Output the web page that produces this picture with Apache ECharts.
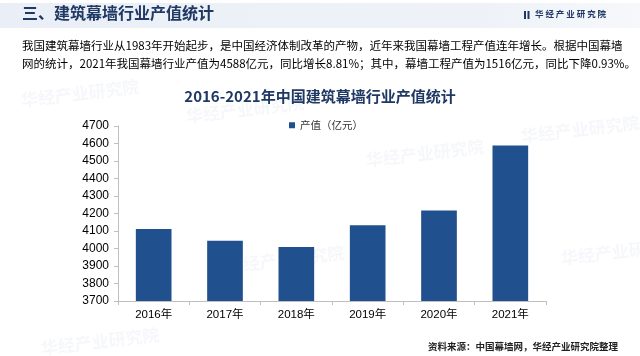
<!DOCTYPE html>
<html>
<head>
<meta charset="utf-8">
<script src="https://cdn.jsdelivr.net/npm/echarts@6/dist/echarts.min.js"></script>
<style>
html,body{margin:0;padding:0;background:#fff;}
#c{width:640px;height:356px;}
</style>
</head>
<body>
<div id="c"></div>
<script>
const categories = ['2016年','2017年','2018年','2019年','2020年','2021年'];
const values = [4111, 4045, 4009, 4133, 4217, 4588];
const seriesName = '产值（亿元）';
const yTicks = {min: 3700, max: 4700, interval: 100};

const headerTitle = '三、建筑幕墙行业产值统计';
const logoText = '华经产业研究院';
const para1 = '我国建筑幕墙行业从1983年开始起步，是中国经济体制改革的产物，近年来我国幕墙工程产值连年增长。根据中国幕墙';
const para2 = '网的统计，2021年我国幕墙行业产值为4588亿元，同比增长8.81%；其中，幕墙工程产值为1516亿元，同比下降0.93%。';
const chartTitle = '2016-2021年中国建筑幕墙行业产值统计';
const sourceText = '资料来源：中国幕墙网，华经产业研究院整理';

const CJK = '"Noto Sans CJK SC", "Liberation Sans", sans-serif';
const LAT = '"Liberation Sans", Arial, "Noto Sans CJK SC", sans-serif';

const chart = echarts.init(document.getElementById('c'), null, {renderer: 'canvas'});

const wmPos = [[20,92],[185,108],[365,152],[520,128],[225,258],[40,340],[560,250],[640,120]];
const watermarks = wmPos.map(p => ({
  type: 'text', x: p[0], y: p[1], rotation: 0.12, z: 0, silent: true,
  style: {text: logoText, fill: 'rgba(150,165,195,0.09)', font: 'bold 17px ' + CJK}
}));

const option = {
  backgroundColor: '#ffffff',
  animation: false,
  title: {
    text: chartTitle, left: 'center', top: 84,
    textStyle: {fontFamily: CJK, fontSize: 15, fontWeight: 'bold', color: '#1f3864'}
  },
  legend: {
    data: [seriesName], left: 284, top: 115,
    icon: 'rect', itemWidth: 6, itemHeight: 6, itemGap: 4,
    textStyle: {fontFamily: CJK, fontSize: 10.5, color: '#333'}
  },
  grid: {left: 118, right: 94, top: 126, bottom: 55, containLabel: false},
  xAxis: {
    type: 'category', data: categories,
    axisLine: {lineStyle: {color: '#bfbfbf', width: 1}},
    axisTick: {show: true, length: 4, lineStyle: {color: '#bfbfbf'}},
    axisLabel: {fontFamily: LAT, fontSize: 11.5, color: '#000', margin: 8}
  },
  yAxis: {
    type: 'value', min: yTicks.min, max: yTicks.max, interval: yTicks.interval,
    axisLine: {show: true, lineStyle: {color: '#bfbfbf', width: 1}},
    axisTick: {show: true, length: 4, lineStyle: {color: '#bfbfbf'}},
    splitLine: {show: false},
    axisLabel: {fontFamily: LAT, fontSize: 12, color: '#000', margin: 9,
      formatter: v => String(v)}
  },
  series: [{
    name: seriesName, type: 'bar', data: values, barWidth: '50%',
    itemStyle: {color: '#21508e'}, z: 5
  }],
  graphic: [
    {type: 'rect', shape: {x: 0, y: 3, width: 640, height: 25}, z: -1, silent: true,
     style: {fill: new echarts.graphic.LinearGradient(0, 0, 1, 0, [
       {offset: 0, color: '#eaeff7'}, {offset: 0.75, color: '#eef2f8'}, {offset: 1, color: '#f6f8fb'}])}},
    {type: 'text', x: 22, y: 5, z: 10,
     style: {text: headerTitle, fill: '#1f3864', font: 'bold 16px ' + CJK}},
    {type: 'rect', shape: {x: 524, y: 11, width: 2, height: 8}, z: 10, style: {fill: '#1f3864'}},
    {type: 'rect', shape: {x: 527.5, y: 11, width: 2, height: 8}, z: 10, style: {fill: '#1f3864'}},
    {type: 'text', x: 535, y: 10, z: 10,
     style: {text: '华 经 产 业 研 究 院', fill: '#1f3864', font: 'bold 8.5px ' + CJK}},
    {type: 'text', x: 22, y: 40, z: 10,
     style: {text: para1, fill: '#000', font: '11.5px ' + CJK}},
    {type: 'text', x: 22, y: 58, z: 10,
     style: {text: para2, fill: '#000', font: '11.5px ' + CJK}},
    {type: 'text', right: 22, y: 342, z: 10,
     style: {text: sourceText, fill: '#222', font: 'bold 9.5px ' + CJK}}
  ].concat(watermarks)
};
chart.setOption(option);
</script>
</body>
</html>
